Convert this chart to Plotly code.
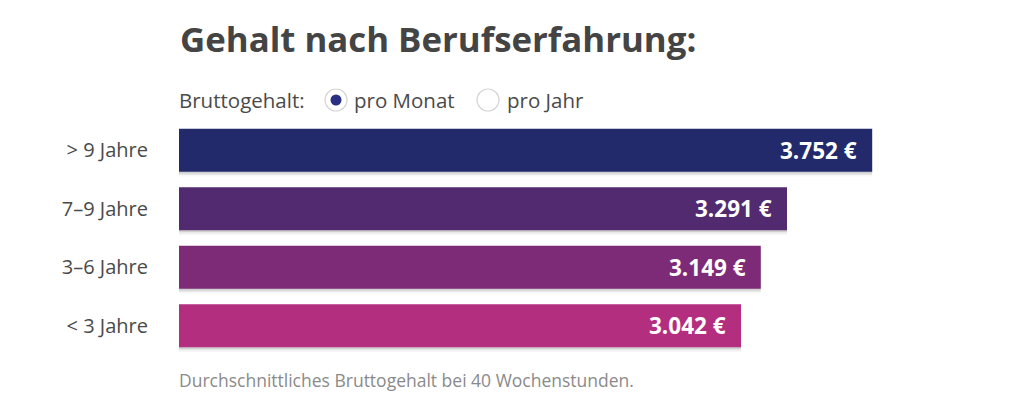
import plotly.graph_objects as go

# ---- data ----
categories = ["> 9 Jahre", "7–9 Jahre", "3–6 Jahre", "< 3 Jahre"]
values = [3752, 3291, 3149, 3042]
bar_colors = ["#222a6c", "#522a70", "#7e2b77", "#b32e7f"]
title_text = "Gehalt nach Berufserfahrung:"
toggle_label = "Bruttogehalt:"
toggle_options = ["pro Monat", "pro Jahr"]
footnote = "Durchschnittliches Bruttogehalt bei 40 Wochenstunden."

def fmt(v):
    return f"{v:,}".replace(",", ".") + " €"

W, H = 1024, 420
OFF = 8  # page body margin
# plot area in page pixels: x 179..918, y 121..355
L, T = 179 - OFF, 121 - OFF
R = W - (918 - OFF)
B = H - (355 - OFF)
pw, ph = W - L - R, H - T - B

def px(x):
    return (x - OFF - L) / pw

def py(y):
    return (H - B - (y - OFF)) / ph

FONT = "Open Sans"
fig = go.Figure()

# soft shadows under bars
for off, alpha in [(0.03, 0.10), (0.055, 0.06), (0.08, 0.03)]:
    fig.add_trace(go.Bar(
        y=categories, x=values, orientation="h",
        width=0.735, offset=-0.3675 + off,
        marker=dict(color=f"rgba(0,0,0,{alpha})", line=dict(width=0)),
        hoverinfo="skip", showlegend=False,
    ))

fig.add_trace(go.Bar(
    y=categories, x=values, orientation="h",
    width=0.735, offset=-0.3675,
    marker=dict(color=bar_colors, line=dict(width=0)),
    hoverinfo="skip", showlegend=False,
))

annotations = []
for c, v in zip(categories, values):
    annotations.append(dict(
        x=v, y=c, xref="x", yref="y", text=f"<b>{fmt(v)}</b>",
        xanchor="right", yanchor="middle", xshift=-13, showarrow=False,
        font=dict(family=FONT, size=22.5, color="white"),
    ))

annotations += [
    dict(x=px(178), y=py(39), xref="paper", yref="paper", text=f"<b>{title_text}</b>",
         xanchor="left", yanchor="middle", showarrow=False,
         font=dict(family=FONT, size=34.8, color="#444444")),
    dict(x=px(177), y=py(100), xref="paper", yref="paper", text=toggle_label,
         xanchor="left", yanchor="middle", showarrow=False,
         font=dict(family=FONT, size=20.5, color="#4a4a4a")),
    dict(x=px(352), y=py(100), xref="paper", yref="paper", text=toggle_options[0],
         xanchor="left", yanchor="middle", showarrow=False,
         font=dict(family=FONT, size=20.5, color="#4a4a4a")),
    dict(x=px(505), y=py(100), xref="paper", yref="paper", text=toggle_options[1],
         xanchor="left", yanchor="middle", showarrow=False,
         font=dict(family=FONT, size=20.5, color="#4a4a4a")),
    dict(x=px(177), y=py(380), xref="paper", yref="paper", text=footnote,
         xanchor="left", yanchor="middle", showarrow=False,
         font=dict(family=FONT, size=17.5, color="#8a8a8a")),
]

shapes = []
for cx, selected in [(336, True), (488, False)]:
    shapes.append(dict(type="circle", xref="paper", yref="paper",
                       xsizemode="pixel", ysizemode="pixel",
                       xanchor=px(cx), yanchor=py(100),
                       x0=-11, x1=11, y0=-11, y1=11,
                       fillcolor="white", line=dict(color="#d6d6d6", width=1.2)))
    if selected:
        shapes.append(dict(type="circle", xref="paper", yref="paper",
                           xsizemode="pixel", ysizemode="pixel",
                           xanchor=px(cx), yanchor=py(100),
                           x0=-5.5, x1=5.5, y0=-5.5, y1=5.5,
                           fillcolor="#2a3183", line=dict(width=0)))

fig.update_layout(
    width=W, height=H,
    margin=dict(l=L, r=R, t=T, b=B, pad=0),
    paper_bgcolor="white", plot_bgcolor="white",
    barmode="overlay",
    showlegend=False,
    xaxis=dict(range=[0, 4000], visible=False, fixedrange=True),
    yaxis=dict(categoryorder="array", categoryarray=categories, autorange="reversed",
               showgrid=False, zeroline=False, showline=False, ticks="",
               ticklabelstandoff=30,
               tickfont=dict(family=FONT, size=20, color="#4a4a4a"), fixedrange=True),
    annotations=annotations,
    shapes=shapes,
)

fig.write_html("out.html", config={"displayModeBar": False})
